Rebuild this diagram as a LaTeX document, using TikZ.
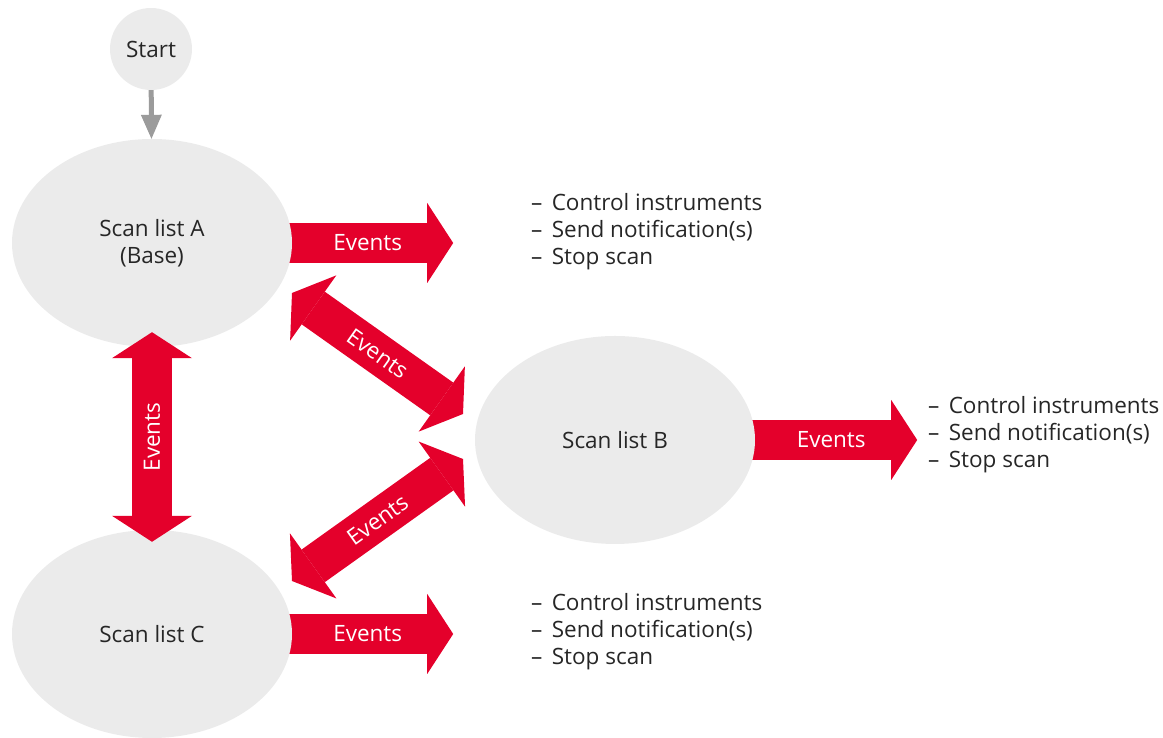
\documentclass[tikz,border=0pt]{standalone}
\usepackage{fontspec}
\setmainfont{Open Sans}
\usetikzlibrary{shapes.geometric,arrows.meta,backgrounds}

\definecolor{evred}{RGB}{228,0,43}
\definecolor{listgray}{RGB}{235,235,235}
\definecolor{startgray}{RGB}{155,155,155}
\definecolor{txtgray}{RGB}{38,38,38}

\newcommand{\itemdash}{–\hspace{3.5pt} }

\tikzset{
  scanlist/.style={ellipse, fill=listgray, text=txtgray, minimum width=280pt, minimum height=208pt, inner sep=0pt, align=center},
  evarrow/.style={draw=evred, line width=40pt, -{Triangle[width=80pt,length=26pt,line width=0pt]}},
  evboth/.style={draw=evred, line width=40pt, {Triangle[width=80pt,length=26pt,line width=0pt]}-{Triangle[width=80pt,length=26pt,line width=0pt]}},
  evtext/.style={text=white, inner sep=0pt},
  todo/.style={anchor=west, align=left, text=txtgray, inner sep=0pt}
}

\begin{document}
\begin{tikzpicture}[x=1pt,y=1pt,font=\fontsize{22.5}{27}\selectfont]
  \useasboundingbox (0,0) rectangle (1163,738);

  % start and the three scan lists
  \node[circle, fill=listgray, text=txtgray, minimum size=82pt, inner sep=0pt] (start) at (151,689) {Start};
  \node[scanlist] (A) at (152,495) {Scan list A\\(Base)};
  \node[scanlist] (B) at (615,298) {Scan list B};
  \node[scanlist] (C) at (152,104) {Scan list C};

  \draw[line width=5pt, startgray, -{Triangle[width=21pt,length=24pt,line width=0pt]}] (start) -- (A);

  % events going out
  \coordinate (A-tip) at ([xshift=161pt]A.east);
  \coordinate (B-tip) at ([xshift=162pt]B.east);
  \coordinate (C-tip) at ([xshift=161pt]C.east);
  \begin{scope}[on background layer]
    \draw[evarrow] ([xshift=-10pt]A.east) -- node[evtext]{Events} (A-tip);
    \draw[evarrow] ([xshift=-10pt]B.east) -- node[evtext]{Events} (B-tip);
    \draw[evarrow] ([xshift=-10pt]C.east) -- node[evtext]{Events} (C-tip);
  \end{scope}

  % events between the lists
  \coordinate (AB-a) at (292,445);
  \coordinate (AB-b) at (463,324);
  \coordinate (CB-c) at (292,157);
  \coordinate (CB-b) at (463,279);
  \draw[evboth] ([yshift=-12pt]C.north) -- node[evtext, sloped]{Events} ([yshift=15pt]A.south);
  \draw[evboth] (AB-a) -- node[evtext, sloped]{Events} (AB-b);
  \draw[evboth] (CB-c) -- node[evtext, sloped]{Events} (CB-b);

  \node[todo] (A-list) at (531,506) {\itemdash Control instruments\\\itemdash Send notification(s)\\\itemdash Stop scan};
  \node[todo] (B-list) at (928,303) {\itemdash Control instruments\\\itemdash Send notification(s)\\\itemdash Stop scan};
  \node[todo] (C-list) at (531,106) {\itemdash Control instruments\\\itemdash Send notification(s)\\\itemdash Stop scan};
\end{tikzpicture}
\end{document}
